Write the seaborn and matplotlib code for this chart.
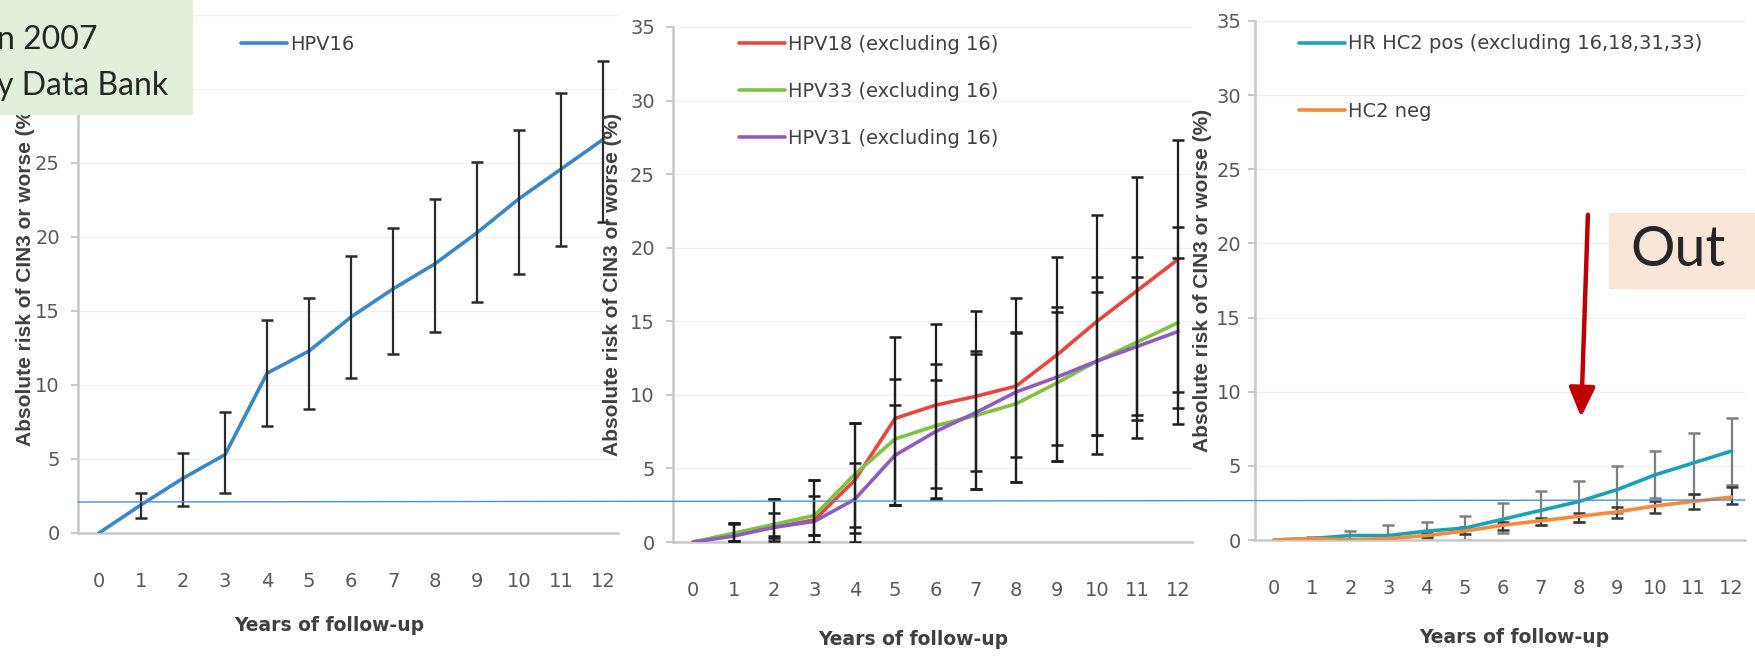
import numpy as np
import pandas as pd
import matplotlib.pyplot as plt
import seaborn as sns
from matplotlib.patches import Rectangle, FancyArrowPatch
from matplotlib.lines import Line2D

# Years of follow-up (shared x axis)
years = list(range(13))

# Panel 1 - HPV16
hpv16 = [0, 1.9, 3.7, 5.3, 10.8, 12.3, 14.6, 16.5, 18.2, 20.3, 22.6, 24.6, 26.6]
hpv16_lo = [0, 1.0, 1.8, 2.7, 7.2, 8.4, 10.5, 12.1, 13.6, 15.6, 17.5, 19.4, 21.0]
hpv16_hi = [0, 2.7, 5.4, 8.2, 14.4, 15.9, 18.7, 20.6, 22.6, 25.1, 27.2, 29.7, 31.9]

# Panel 2 - HPV18 / HPV33 / HPV31 (excluding 16)
hpv18 = [0, 0.5, 1.0, 1.5, 4.2, 8.4, 9.3, 9.9, 10.6, 12.7, 15.0, 17.1, 19.2]
hpv18_lo = [0, 0.1, 0.3, 0.5, 1.0, 2.5, 2.9, 3.6, 4.1, 5.5, 7.3, 8.6, 10.2]
hpv18_hi = [0, 1.3, 2.9, 4.2, 8.1, 13.9, 14.8, 15.7, 16.6, 19.4, 22.2, 24.8, 27.3]
hpv33 = [0, 0.6, 1.2, 1.8, 4.6, 7.0, 7.9, 8.6, 9.4, 10.8, 12.3, 13.6, 14.9]
hpv33_lo = [0, 0.1, 0.4, 0.5, 0.6, 2.5, 3.7, 4.8, 5.8, 6.6, 7.3, 8.3, 9.1]
hpv33_hi = [0, 1.3, 2.9, 4.2, 8.1, 11.1, 12.1, 13.0, 14.3, 16.0, 18.0, 19.4, 21.4]
hpv31 = [0, 0.4, 1.0, 1.4, 2.9, 5.9, 7.5, 8.8, 10.2, 11.2, 12.3, 13.3, 14.3]
hpv31_lo = [0, 0.1, 0.1, 0.0, 0.0, 2.5, 3.0, 3.6, 4.1, 5.5, 6.0, 7.1, 8.0]
hpv31_hi = [0, 1.2, 2.0, 3.1, 5.4, 9.3, 11.0, 12.8, 14.2, 15.6, 17.0, 18.0, 19.3]

# Panel 3 - HR HC2 pos / HC2 neg
hc2pos = [0, 0.1, 0.3, 0.3, 0.6, 0.8, 1.4, 2.0, 2.6, 3.4, 4.4, 5.2, 6.0]
hc2pos_lo = [0, 0.1, 0.1, 0.0, 0.1, 0.0, 0.5, 1.0, 1.2, 1.8, 2.8, 3.1, 3.7]
hc2pos_hi = [0, 0.2, 0.6, 1.0, 1.2, 1.6, 2.5, 3.3, 4.0, 5.0, 6.0, 7.2, 8.2]
hc2neg = [0, 0.1, 0.0, 0.1, 0.3, 0.6, 1.0, 1.3, 1.6, 1.9, 2.3, 2.6, 2.9]
hc2neg_lo = [0, 0.1, 0.0, 0.0, 0.2, 0.4, 0.7, 1.0, 1.2, 1.5, 1.8, 2.1, 2.4]
hc2neg_hi = [0, 0.1, 0.1, 0.2, 0.5, 0.9, 1.2, 1.5, 1.8, 2.2, 2.6, 3.1, 3.6]

ylabel = 'Absolute risk of CIN3 or worse (%)'
xlabel = 'Years of follow-up'

sns.set_style('white')
plt.rcParams['font.family'] = ['DejaVu Sans']

W, H = 1756, 656
fig = plt.figure(figsize=(W / 100, H / 100), dpi=100)


def px_axes(left, right, top, bottom):
    return fig.add_axes([left / W, 1 - bottom / H, (right - left) / W, (bottom - top) / H])


def style_axis(ax, ylab_x, xlab_x, xlab_y, ypad=8):
    ax.set_xlim(-0.5, 12.35)
    ax.set_ylim(0, 35)
    ax.set_xticks(years)
    ax.set_xticks(np.arange(-0.5, 12, 1), minor=True)
    ax.set_yticks(range(0, 36, 5))
    ax.tick_params(axis='x', which='major', length=0, pad=28, labelsize=14, labelcolor='#595959')
    ax.tick_params(axis='x', which='minor', length=7, width=1.5, color='#BFBFBF', direction='out')
    ax.tick_params(axis='y', length=5, width=1.2, color='#BFBFBF', pad=ypad, labelsize=14,
                   labelcolor='#595959', left=True)
    for s in ['top', 'right']:
        ax.spines[s].set_visible(False)
    for s in ['left', 'bottom']:
        ax.spines[s].set_color('#C8C8C8')
        ax.spines[s].set_linewidth(1.8)
    ax.yaxis.grid(True, color='#F0F0F0', lw=1)
    ax.set_axisbelow(True)
    ax.set_ylabel(ylabel, fontsize=15, fontweight='bold', color='#404040',
                  family=['Liberation Sans', 'DejaVu Sans'])
    ax.yaxis.set_label_coords(ylab_x, 0.5)
    ax.set_xlabel(xlabel, fontsize=13.5, fontweight='bold', color='#404040')
    ax.xaxis.set_label_coords(xlab_x, xlab_y)


def draw_series(ax, vals, lo, hi, color, label, ecolor, z_err):
    sns.lineplot(x=years, y=vals, color=color, lw=2.6, label=label, ax=ax, zorder=3)
    v = np.array(vals[1:])
    err = [v - np.array(lo[1:]), np.array(hi[1:]) - v]
    ax.errorbar(years[1:], v, yerr=err, fmt='none', ecolor=ecolor, elinewidth=1.6,
                capsize=4, capthick=1.8, zorder=z_err)


leg_kw = dict(loc='upper left', frameon=False, fontsize=14, handlelength=2.35,
              handletextpad=0.17, borderpad=0, borderaxespad=0, labelcolor='#404040')

# Panel 1
ax1 = px_axes(78, 618, 15, 533)
draw_series(ax1, hpv16, hpv16_lo, hpv16_hi, '#3A87C8', 'HPV16', '#2B2B2B', 4)
style_axis(ax1, -0.08, 0.465, -0.16)
ax1.legend(bbox_to_anchor=(0.302, 0.962), **leg_kw)

# Panel 2
ax2 = px_axes(673, 1192, 27, 542)
draw_series(ax2, hpv18, hpv18_lo, hpv18_hi, '#E8453C', 'HPV18 (excluding 16)', '#1E1E1E', 4)
draw_series(ax2, hpv33, hpv33_lo, hpv33_hi, '#7DC242', 'HPV33 (excluding 16)', '#1E1E1E', 4)
draw_series(ax2, hpv31, hpv31_lo, hpv31_hi, '#8E5CC0', 'HPV31 (excluding 16)', '#1E1E1E', 4)
style_axis(ax2, -0.098, 0.463, -0.17)
ax2.legend(bbox_to_anchor=(0.127, 0.985), labelspacing=1.45, **leg_kw)

# Panel 3
ax3 = px_axes(1255, 1745, 21, 540)
draw_series(ax3, hc2pos, hc2pos_lo, hc2pos_hi, '#1BA1B5', 'HR HC2 pos (excluding 16,18,31,33)', '#7F7F7F', 2)
draw_series(ax3, hc2neg, hc2neg_lo, hc2neg_hi, '#F58A3B', 'HC2 neg', '#3A3A3A', 2)
style_axis(ax3, -0.088, 0.53, -0.17, ypad=5)
ax3.legend(bbox_to_anchor=(0.09, 0.974), labelspacing=2.5, **leg_kw)

# Overlays from the slide
fig.add_artist(Rectangle((0, 1 - 115 / H), 193 / W, 115 / H, transform=fig.transFigure,
                         facecolor='#E2EFDA', edgecolor='none', zorder=10))
fig.text(-3 / W, 1 - 40 / H, 'n 2007', fontsize=23, family=['Lato', 'DejaVu Sans'],
         va='center', ha='left', zorder=11)
fig.text(-3 / W, 1 - 86 / H, 'y Data Bank', fontsize=23, family=['Lato', 'DejaVu Sans'],
         va='center', ha='left', zorder=11)

fig.add_artist(Rectangle((1609 / W, 1 - 289 / H), 147 / W, 76 / H, transform=fig.transFigure,
                         facecolor='#FBE5D6', edgecolor='none', zorder=10))
fig.text(1630 / W, 1 - 251 / H, 'Out', fontsize=40, family=['Lato', 'DejaVu Sans'],
         va='center', ha='left', zorder=11)

fig.add_artist(FancyArrowPatch((1588 / W, 1 - 212 / H), (1581 / W, 1 - 420 / H),
                               transform=fig.transFigure, arrowstyle='-|>,head_length=0.9,head_width=0.4',
                               mutation_scale=20, lw=3.2, color='#C00000', zorder=10))

fig.add_artist(Line2D([78 / W, 1745 / W], [1 - 502 / H, 1 - 500 / H], transform=fig.transFigure,
                      color='#4A90D9', lw=1, zorder=10))

fig.savefig('out.png', dpi=100)
